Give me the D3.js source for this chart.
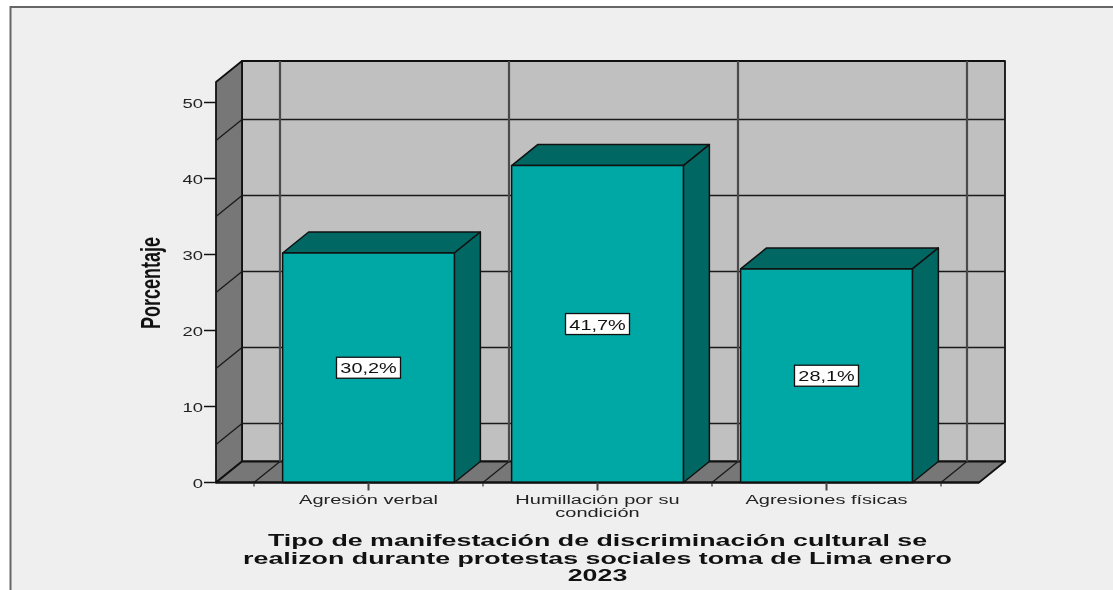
<!DOCTYPE html>
<html><head><meta charset="utf-8">
<script src="https://cdn.jsdelivr.net/npm/d3@7/dist/d3.min.js"></script>
<style>html,body{margin:0;padding:0;background:#fff}svg{display:block;filter:blur(0.4px)}text{font-family:"Liberation Sans",Arial,sans-serif}</style>
</head><body><div id="c"></div>
<script>
const categories = [["Agresión verbal"],["Humillación por su","condición"],["Agresiones físicas"]];
const values = [30.2,41.7,28.1];
const valueLabels = ["30,2%","41,7%","28,1%"];
const yTicks = [0,10,20,30,40,50];
const gridLevels = [5,15,25,35,45];
const titleLines = ["Tipo de manifestación de discriminación cultural se","realizon durante protestas sociales toma de Lima enero","2023"];
const yTitle = "Porcentaje";

const W=1113,H=590, dx=26, dy=-21;
const svg=d3.select("#c").append("svg").attr("width",W).attr("height",H);
svg.append("rect").attr("width",W).attr("height",H).attr("fill","#fff");
svg.append("rect").attr("x",10).attr("y",7).attr("width",W).attr("height",H).attr("fill","#efefef");
svg.append("path").attr("d",`M10.5 ${H}V7H${W}`).attr("fill","none").attr("stroke","#666").attr("stroke-width",2);

const y=d3.scaleLinear().domain([0,50]).range([482.5,102.5]);
const yTop=y.invert(82);
const x=d3.scaleBand().domain(categories.map(c=>c.join(" "))).range([254,941]).paddingInner(0.25).paddingOuter(0.125);
const xL=216,xR=979,y0=y(0),yT=y(yTop);
const line="#1a1a1a";
const g=svg.append("g");
const poly=(pts,fill,sw=1.5)=>g.append("path").attr("d","M"+pts.map(p=>p.join(" ")).join("L")+"Z").attr("fill",fill).attr("stroke","#111").attr("stroke-width",sw).attr("stroke-linejoin","round");
const seg=(a,b,col=line,sw=1.3)=>g.append("line").attr("x1",a[0]).attr("y1",a[1]).attr("x2",b[0]).attr("y2",b[1]).attr("stroke",col).attr("stroke-width",sw);

// walls
poly([[xL+dx,yT+dy],[xR+dx,yT+dy],[xR+dx,y0+dy],[xL+dx,y0+dy]],"#c0c0c0",1.8);
poly([[xL,yT],[xL+dx,yT+dy],[xL+dx,y0+dy],[xL,y0]],"#777777",1.8);
poly([[xL,y0],[xL+dx,y0+dy],[xR+dx,y0+dy],[xR,y0]],"#777777",1.8);
// horizontal grid
gridLevels.forEach(v=>{
  seg([xL,y(v)],[xL+dx,y(v)+dy]);
  seg([xL+dx,y(v)+dy],[xR+dx,y(v)+dy]);
});
// vertical grid at band edges
const step=x.step(), edges=[0,1,2,3].map(i=>254+i*step);
edges.forEach(e=>{
  seg([e,y0],[e+dx,y0+dy]);
  seg([e+dx,y0+dy],[e+dx,yT+dy],"#4a4a4a",2.2);
  seg([e,y0],[e,y0+4],"#555",1.4);
});
// bars
categories.forEach((c,i)=>{
  const k=c.join(" "),x0=x(k),x1=x0+x.bandwidth(),yv=y(values[i]);
  poly([[x0,yv],[x0+dx,yv+dy],[x1+dx,yv+dy],[x1,yv]],"#006763");
  poly([[x1,yv],[x1+dx,yv+dy],[x1+dx,y0+dy],[x1,y0]],"#006763");
  poly([[x0,yv],[x1,yv],[x1,y0],[x0,y0]],"#00a8a5");
});
// axis lines
seg([xL,y0],[xR,y0],"#111",2);
// y axis ticks
const tg=svg.append("g");
yTicks.forEach(v=>{
  tg.append("line").attr("x1",xL-12).attr("x2",xL).attr("y1",y(v)).attr("y2",y(v)).attr("stroke","#111").attr("stroke-width",1.5);
  tg.append("text").attr("transform",`translate(${xL-13},${y(v)+5.5}) scale(1.42,1)`).attr("text-anchor","end").attr("font-size",13).attr("fill","#222").text(v);
});
// x ticks
categories.forEach(c=>{
  const k=c.join(" "),cx=x(k)+x.bandwidth()/2;
  tg.append("line").attr("x1",cx).attr("x2",cx).attr("y1",y0).attr("y2",y0+8).attr("stroke","#444").attr("stroke-width",2);
  c.forEach((t,j)=>tg.append("text").attr("transform",`translate(${cx},${504+j*12.5}) scale(1.6,1)`).attr("text-anchor","middle").attr("font-size",12.5).attr("fill","#222").text(t));
});
// value labels
values.forEach((v,i)=>{
  const k=categories[i].join(" "),cx=x(k)+x.bandwidth()/2,cy=y(v/2);
  tg.append("rect").attr("x",cx-32).attr("y",cy-10.5).attr("width",64).attr("height",21).attr("fill","#fff").attr("stroke","#111").attr("stroke-width",1.3);
  tg.append("text").attr("transform",`translate(${cx},${cy+5.5}) scale(1.42,1)`).attr("text-anchor","middle").attr("font-size",14).attr("fill","#111").text(valueLabels[i]);
});
// titles
tg.append("text").attr("transform",`translate(160,283) rotate(-90) scale(0.9,1.35)`).attr("text-anchor","middle").attr("font-size",20).attr("font-weight","bold").attr("fill","#111").text(yTitle);
titleLines.forEach((t,j)=>tg.append("text").attr("transform",`translate(597.5,${546+j*17.5}) scale(1.625,1)`).attr("text-anchor","middle").attr("font-size",16.5).attr("font-weight","bold").attr("fill","#111").text(t));
</script></body></html>
